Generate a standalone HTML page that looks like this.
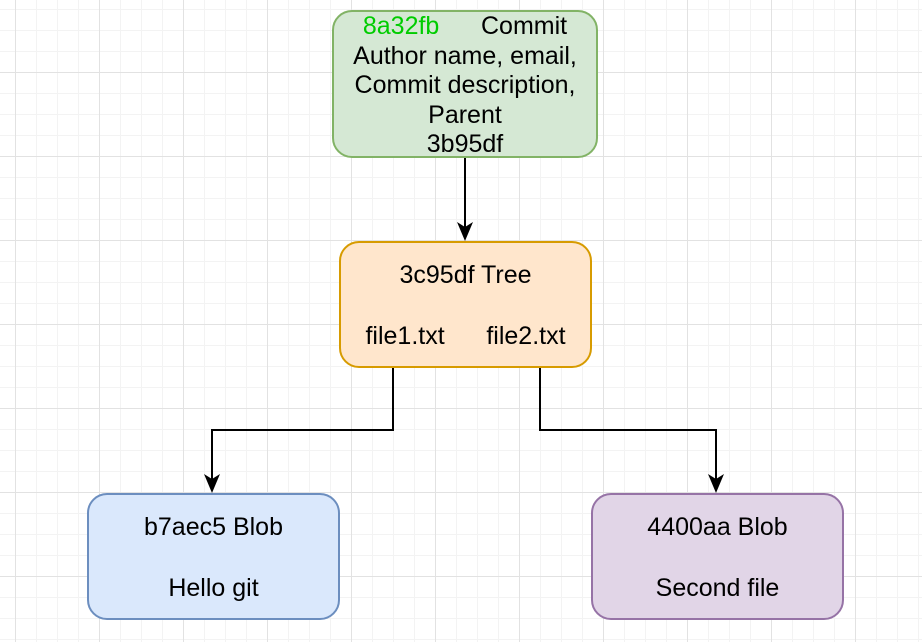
<!DOCTYPE html>
<html><head><style>
body{margin:0;width:922px;height:642px;overflow:hidden;background:#fff;
background-image:
linear-gradient(90deg,#e2e2e2 1px,transparent 1px),
linear-gradient(0deg,#e2e2e2 1px,transparent 1px),
linear-gradient(90deg,#f3f3f3 1px,transparent 1px),
linear-gradient(0deg,#f3f3f3 1px,transparent 1px);
background-size:84px 84px,84px 84px,21px 21px,21px 21px;
background-position:15px 0,0 73px,15px 0,0 10px;
font-family:"Liberation Sans",Arial,sans-serif;font-size:25px;color:#000;}
.b{position:absolute;box-sizing:border-box;border-radius:20px;border:2px solid;}
.t{position:absolute;left:0;right:0;text-align:center;white-space:nowrap;line-height:29.5px}
svg{position:absolute;left:0;top:0}
</style></head><body>
<svg width="922" height="642">
<g stroke="#000" stroke-width="2" fill="none">
<path d="M465,157 V230"/>
<path d="M393,367 V430 H212 V482"/>
<path d="M540,367 V430 H716 V482"/>
</g>
<g fill="#000">
<path d="M465,241 L457,222 L465,227 L473,222 z"/>
<path d="M212,493 L204,474 L212,479 L220,474 z"/>
<path d="M716,493 L708,474 L716,479 L724,474 z"/>
</g></svg>
<div class="b" style="left:332px;top:10px;width:266px;height:148px;background:#d5e8d4;border-color:#82b366">
<div class="t" style="top:0px"><span style="color:#00cc00">8a32fb</span>&nbsp;&nbsp;&nbsp;&nbsp;&nbsp; Commit<br>Author name, email,<br>Commit description,<br>Parent<br>3b95df</div></div>
<div class="b" style="left:339px;top:241px;width:253px;height:127px;background:#ffe6cc;border-color:#d79b00">
<div class="t" style="top:18px">3c95df Tree</div>
<div class="t" style="top:79px">file1.txt&nbsp;&nbsp;&nbsp;&nbsp;&nbsp; file2.txt</div></div>
<div class="b" style="left:87px;top:493px;width:253px;height:127px;background:#dae8fc;border-color:#6c8ebf">
<div class="t" style="top:18px">b7aec5 Blob</div>
<div class="t" style="top:79px">Hello git</div></div>
<div class="b" style="left:591px;top:493px;width:253px;height:127px;background:#e1d5e7;border-color:#9673a6">
<div class="t" style="top:18px">4400aa Blob</div>
<div class="t" style="top:79px">Second file</div></div>
</body></html>
